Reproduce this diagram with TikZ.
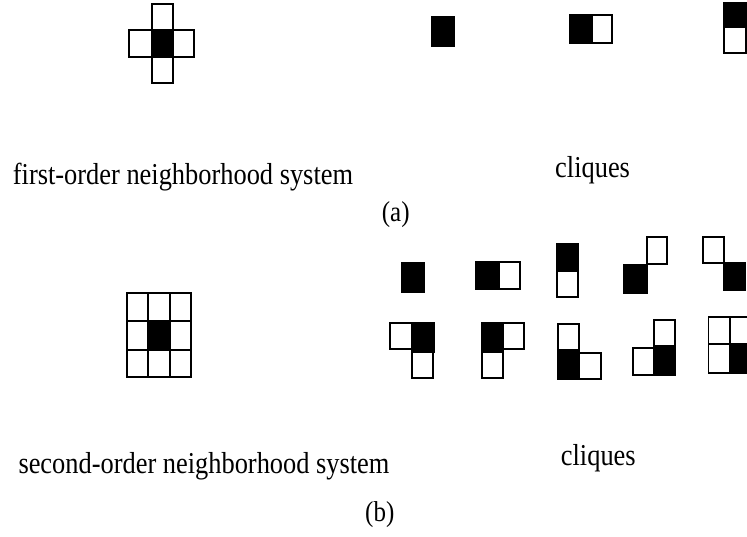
\documentclass[tikz,border=0pt]{standalone}
\usepackage{fontspec}
\usepackage{graphicx}
\setmainfont{Liberation Serif}
\newcommand{\tallx}[1]{\scalebox{1}[1.15]{#1}}
\begin{document}
\begin{tikzpicture}[x=1pt,y=-1pt,
  wcell/.style={draw=black,line width=1.7pt,fill=white},
  bcell/.style={draw=black,line width=1.7pt,fill=black},
  lbl/.style={anchor=base west,inner sep=0pt,font=\fontsize{26.4}{30}\selectfont},
  sub/.style={anchor=base west,inner sep=0pt,font=\fontsize{25}{28}\selectfont}]
\useasboundingbox (0,0) rectangle (747,536);
% first-order neighborhood
\draw[wcell] (152,4) rectangle (173,30);
\draw[wcell] (129,30) rectangle (152,57);
\draw[wcell] (173,30) rectangle (194,57);
\draw[wcell] (152,57) rectangle (173,83);
\draw[bcell] (152,30) rectangle (173,57);
% cliques (a)
\draw[bcell] (432,17) rectangle (454,46);
\draw[wcell] (592.5,15) rectangle (612,43);
\draw[bcell] (570,15) rectangle (592.5,43);
\draw[wcell] (724,27) rectangle (746,53);
\draw[bcell] (724,3) rectangle (746,27);
% second-order neighborhood
\foreach \xa/\xb in {127/148,148/170,170/191}
  \foreach \ya/\yb in {293/321,321/350,350/377}
    \draw[wcell] (\xa,\ya) rectangle (\xb,\yb);
\draw[bcell] (148,321) rectangle (170,350);
% cliques (b) row 1
\draw[bcell] (402,263) rectangle (424,292);
\draw[wcell] (499,262) rectangle (520,289);
\draw[bcell] (476,262) rectangle (499,289);
\draw[wcell] (557,271) rectangle (578,297);
\draw[bcell] (557,244) rectangle (578,271);
\draw[wcell] (647,237) rectangle (667,264);
\draw[bcell] (624,265) rectangle (647,293);
\draw[wcell] (703,237) rectangle (724,263);
\draw[bcell] (724,263) rectangle (745,290);
% cliques (b) row 2
\draw[wcell] (390,323) rectangle (412,349);
\draw[wcell] (412,352) rectangle (433,378);
\draw[bcell] (412,323) rectangle (434,352);
\draw[wcell] (503,323) rectangle (524,349);
\draw[wcell] (482,352) rectangle (503,378);
\draw[bcell] (482,323) rectangle (503,352);
\draw[wcell] (558,324) rectangle (579,350);
\draw[wcell] (579,353) rectangle (601,379);
\draw[bcell] (558,350) rectangle (579,379);
\draw[wcell] (633,348) rectangle (654,375);
\draw[wcell] (654,320) rectangle (675,346);
\draw[bcell] (654,346) rectangle (675,375);
\draw[wcell] (708.5,317) rectangle (730,344);
\draw[wcell] (730,317) rectangle (752,344);
\draw[wcell] (708.5,344) rectangle (730,373);
\draw[bcell] (730,344) rectangle (752,373);
% labels
\node[lbl] (t1) at (12.7,184.5) {\tallx{first-order neighborhood system}};
\node[lbl] (c1) at (555,177) {\tallx{cliques}};
\node[sub] (a) at (381.7,221.7) {\tallx{(a)}};
\node[lbl] (t2) at (18.3,473.3) {\tallx{second-order neighborhood system}};
\node[lbl] (c2) at (560.7,465) {\tallx{cliques}};
\node[sub] (b) at (365,521.7) {\tallx{(b)}};
\end{tikzpicture}
\end{document}
